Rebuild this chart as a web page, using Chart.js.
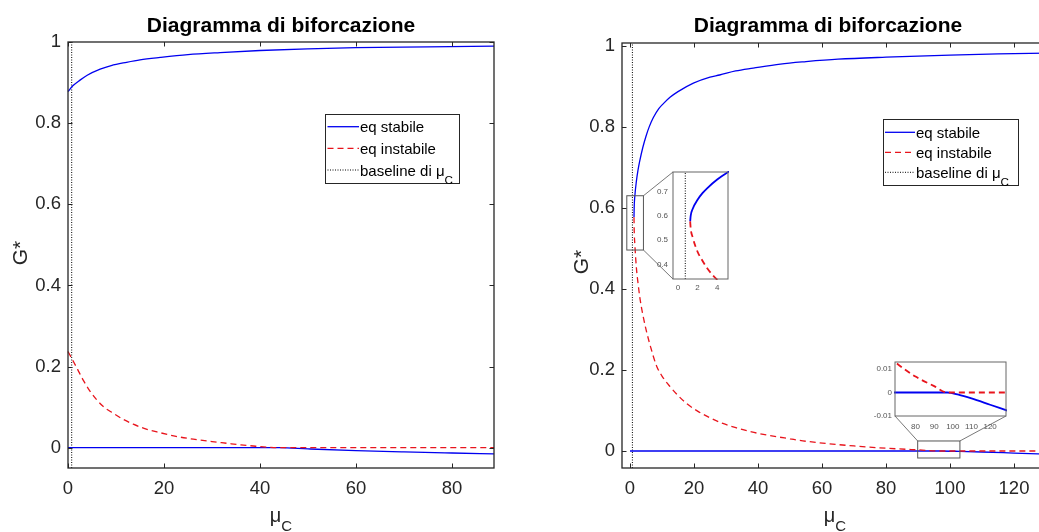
<!DOCTYPE html>
<html>
<head>
<meta charset="utf-8">
<script src="https://cdn.jsdelivr.net/npm/chart.js@4.4.1/dist/chart.umd.min.js"></script>
<style>
  html, body { margin: 0; padding: 0; background: #fff; overflow: hidden; }
  #page { position: relative; width: 1039px; height: 532px; overflow: hidden; background: #fff; }
  canvas { position: absolute; }
</style>
</head>
<body>
<div id="page">
  <canvas id="leftCanvas" width="520" height="532" style="left:0;top:0"></canvas>
  <canvas id="rightCanvas" width="540" height="532" style="left:520px;top:0"></canvas>
  <canvas id="linkCanvas" width="1039" height="532" style="left:0;top:0;pointer-events:none"></canvas>
  <canvas id="inset1Canvas" width="95" height="140" style="left:640px;top:162px"></canvas>
  <canvas id="inset2Canvas" width="160" height="85" style="left:855px;top:352px"></canvas>
</div>
<script>
// ---- data ----
// left panel
const leftTopMu = [0, 1, 2.5, 4, 6.7, 9, 12.2, 15, 19.2, 25, 31.7, 40, 50, 60, 75, 88.75];
const leftTopG  = [0.878, 0.892, 0.906, 0.918, 0.933, 0.942, 0.950, 0.956, 0.962, 0.969, 0.974, 0.979, 0.983, 0.986, 0.988, 0.990];
const leftRedMu = [0, 1.1, 2, 3.2, 4.5, 6, 7.5, 9.4, 11.5, 13.6, 16, 19.2, 22.5, 26.1, 30, 33, 36, 39.3, 42, 44, 88.75];
const leftRedG  = [0.237, 0.213, 0.193, 0.166, 0.141, 0.118, 0.100, 0.085, 0.070, 0.058, 0.047, 0.037, 0.028, 0.021, 0.015, 0.011, 0.007, 0.0035, 0.001, 0, 0];
const leftLowMu = [0, 44, 50, 60, 70, 80, 88.75];
const leftLowG  = [0, 0, -0.003, -0.0074, -0.0105, -0.013, -0.015];
const leftBaselineMu = 0.77;

// right panel (also used by the two magnified insets)
const rightTopMu = [1.25, 1.3, 1.5, 2, 2.5, 3, 4, 5, 6, 7.3, 9, 10.5, 12.5, 15, 19.8, 25, 28, 33, 38.5, 47, 55, 65, 80, 100, 115, 130];
const rightTopG  = [0.577, 0.600, 0.628, 0.666, 0.693, 0.714, 0.749, 0.777, 0.800, 0.823, 0.845, 0.858, 0.873, 0.887, 0.908, 0.923, 0.928, 0.938, 0.945, 0.955, 0.961, 0.967, 0.972, 0.977, 0.980, 0.982];
const rightRedMu = [1.25, 1.3, 1.5, 2, 2.5, 3, 3.5, 4, 5, 6.5, 8.3, 10, 12.5, 15, 17.7, 21, 25, 29, 33.3, 38, 43.8, 50, 54, 62, 70, 80, 90, 97, 130];
const rightRedG  = [0.577, 0.548, 0.512, 0.452, 0.415, 0.383, 0.358, 0.337, 0.300, 0.255, 0.210, 0.185, 0.159, 0.137, 0.117, 0.099, 0.082, 0.068, 0.057, 0.047, 0.038, 0.030, 0.025, 0.018, 0.0124, 0.0068, 0.0027, 0, 0];
const rightLowMu = [0, 97, 103, 110, 120, 130];
const rightLowG  = [0, 0, -0.0009, -0.0025, -0.0052, -0.0079];
const rightBaselineMu = 0.75;

// tick labels
const leftXTicks = [0, 20, 40, 60, 80];
const rightXTicks = [0, 20, 40, 60, 80, 100, 120];
const mainYTicks = [0, 0.2, 0.4, 0.6, 0.8, 1];
const inset1XTicks = [0, 2, 4];
const inset1YTicks = [0.4, 0.5, 0.6, 0.7];
const inset2XTicks = [80, 90, 100, 110, 120];
const inset2YTicks = [-0.01, 0, 0.01];

const TITLE = 'Diagramma di biforcazione';
const LABEL_STABLE = 'eq stabile';
const LABEL_UNSTABLE = 'eq instabile';
const LABEL_BASE = 'baseline di μ_C';

// ---- styling ----
const FAM = '"Liberation Sans", Arial, Helvetica, sans-serif';
const INK = '#262626';
const BLUE = '#0000f0';
const RED = '#e8141c';
Chart.defaults.font.family = FAM;
Chart.defaults.color = INK;

const zip = (xs, ys) => xs.map((x, i) => ({ x, y: ys[i] }));

// text with one "_X" subscript
function drawRich(ctx, text, x, y, size, subScale, subDy, align) {
  const [main, sub = ''] = text.split('_');
  const subSize = size * subScale;
  ctx.font = `${size}px ${FAM}`;
  const w1 = ctx.measureText(main).width;
  ctx.font = `${subSize}px ${FAM}`;
  const w2 = ctx.measureText(sub).width;
  const sx = align === 'center' ? x - (w1 + w2) / 2 : x;
  ctx.textAlign = 'left';
  ctx.textBaseline = 'alphabetic';
  ctx.font = `${size}px ${FAM}`;
  ctx.fillText(main, sx, y);
  ctx.font = `${subSize}px ${FAM}`;
  ctx.fillText(sub, sx + w1, y + subDy);
}

// MATLAB-ish axes: white box, inward ticks, title, labels, legend, zoom rectangles
const matlabAxes = {
  id: 'matlabAxes',
  beforeDatasetsDraw(chart) {
    const { ctx, chartArea: a } = chart;
    ctx.save();
    ctx.fillStyle = '#fff';
    ctx.fillRect(a.left, a.top, a.right - a.left, a.bottom - a.top);
    ctx.restore();
  },
  afterDatasetsDraw(chart, args, o) {
    const { ctx, chartArea: a, scales: { x, y } } = chart;
    ctx.save();
    // zoom rectangles (source regions of the insets)
    (o.rects || []).forEach(r => {
      const x0 = x.getPixelForValue(r.x0), x1 = x.getPixelForValue(r.x1);
      const y0 = y.getPixelForValue(r.y0), y1 = y.getPixelForValue(r.y1);
      ctx.strokeStyle = '#555';
      ctx.lineWidth = 1;
      ctx.strokeRect(x0, y1, x1 - x0, y0 - y1);
    });
    // ticks pointing inward on all four sides
    if (o.tickLen) {
      ctx.strokeStyle = o.boxColor;
      ctx.lineWidth = 1;
      ctx.beginPath();
      x.ticks.forEach(t => {
        const px = Math.round(x.getPixelForValue(t.value)) + 0.5;
        ctx.moveTo(px, a.bottom); ctx.lineTo(px, a.bottom - o.tickLen);
        ctx.moveTo(px, a.top); ctx.lineTo(px, a.top + o.tickLen);
      });
      y.ticks.forEach(t => {
        const py = Math.round(y.getPixelForValue(t.value)) + 0.5;
        ctx.moveTo(a.left, py); ctx.lineTo(a.left + o.tickLen, py);
        ctx.moveTo(a.right, py); ctx.lineTo(a.right - o.tickLen, py);
      });
      ctx.stroke();
    }
    // box
    ctx.strokeStyle = o.boxColor;
    ctx.lineWidth = o.boxWidth || 1;
    ctx.strokeRect(a.left, a.top, a.right - a.left, a.bottom - a.top);
    ctx.restore();
  },
  afterDraw(chart, args, o) {
    const { ctx, chartArea: a } = chart;
    ctx.save();
    ctx.fillStyle = '#000';
    const cx = (a.left + a.right) / 2;
    if (o.title) {
      ctx.font = `bold ${o.titleSize}px ${FAM}`;
      ctx.textAlign = 'center';
      ctx.textBaseline = 'alphabetic';
      ctx.fillText(o.title, o.titleX ?? cx, o.titleY);
    }
    ctx.fillStyle = INK;
    if (o.xLabel) drawRich(ctx, o.xLabel, o.xLabelX ?? cx, o.xLabelY, 20, 0.75, 8.7, 'center');
    if (o.yLabel) {
      ctx.save();
      ctx.translate(o.yLabelX, o.yLabelY);
      ctx.rotate(-Math.PI / 2);
      ctx.font = `21px ${FAM}`;
      ctx.textAlign = 'center';
      ctx.textBaseline = 'alphabetic';
      ctx.fillText(o.yLabel, 0, 0);
      ctx.restore();
    }
    const L = o.legend;
    if (L) {
      ctx.fillStyle = '#fff';
      ctx.fillRect(L.x, L.y, L.w, L.h);
      ctx.strokeStyle = INK;
      ctx.lineWidth = 1;
      ctx.strokeRect(L.x + 0.5, L.y + 0.5, L.w, L.h);
      const items = chart.data.datasets.filter(d => d.label);
      items.sort((p, q) => p.legendIndex - q.legendIndex);
      items.forEach((d, i) => {
        const ry = L.rows[i];
        ctx.strokeStyle = d.borderColor;
        ctx.lineWidth = d.borderWidth;
        ctx.setLineDash(d.borderDash || []);
        ctx.beginPath();
        ctx.moveTo(L.lx0, ry); ctx.lineTo(L.lx1, ry);
        ctx.stroke();
        ctx.setLineDash([]);
        ctx.fillStyle = '#000';
        drawRich(ctx, d.label, L.tx, ry + 5.5, 15, 0.78, 8, 'left');
      });
    }
    ctx.restore();
  }
};

function series(label, xs, ys, extra) {
  return Object.assign({
    label, data: zip(xs, ys), showLine: true, pointRadius: 0, pointHoverRadius: 0,
    borderWidth: 1.3, fill: false, cubicInterpolationMode: 'monotone', clip: 1
  }, extra);
}

function baseline(mu, yMin, yMax, width) {
  return series('', [mu, mu], [yMin, yMax], {
    borderColor: '#000', borderWidth: width, borderDash: [1, 1.5],
    cubicInterpolationMode: 'default', tension: 0, order: 2
  });
}

function axis(min, max, ticks, fontSize, pad, fit) {
  return {
    type: 'linear', min, max,
    grid: { display: false, drawTicks: false },
    border: { display: false },
    ticks: { font: { size: fontSize }, padding: pad, color: fontSize < 12 ? '#555' : INK,
             autoSkip: false, maxRotation: 0, callback: v => String(v) },
    afterBuildTicks: s => { s.ticks = ticks.map(v => ({ value: v })); },
    afterFit: fit
  };
}

function makeChart(id, datasets, padding, xs, ys, deco) {
  return new Chart(document.getElementById(id), {
    type: 'scatter',
    data: { datasets },
    options: {
      responsive: false, animation: false, devicePixelRatio: 1,
      layout: { padding },
      scales: { x: xs, y: ys },
      plugins: { legend: { display: false }, tooltip: { enabled: false }, matlabAxes: deco }
    },
    plugins: [matlabAxes]
  });
}

function panelSets(topMu, topG, redMu, redG, lowMu, lowG, baseMu, yMin, yMax, w) {
  return [
    series(LABEL_UNSTABLE, redMu, redG, { borderColor: RED, borderDash: [6, 4], borderWidth: w, order: 0, legendIndex: 1 }),
    series(LABEL_STABLE, topMu, topG, { borderColor: BLUE, borderWidth: w, order: 1, legendIndex: 0 }),
    series('', lowMu, lowG, { borderColor: BLUE, borderWidth: w, order: 1 }),
    Object.assign(baseline(baseMu, yMin, yMax, 1), { label: LABEL_BASE, legendIndex: 2 })
  ];
}

// ---- left panel ----
const leftChart = makeChart('leftCanvas',
  panelSets(leftTopMu, leftTopG, leftRedMu, leftRedG, leftLowMu, leftLowG, leftBaselineMu, -0.05, 1, 1.3),
  { left: 0, right: 26, top: 42, bottom: 0 },
  axis(0, 88.75, leftXTicks, 18.5, 10, s => { s.height = 64; }),
  axis(-0.05, 1, mainYTicks, 18.5, 7, s => { s.width = 68; }),
  {
    title: TITLE, titleSize: 21, titleY: 32,
    xLabel: 'μ_C', xLabelY: 522,
    yLabel: 'G*', yLabelX: 27, yLabelY: 253,
    boxColor: INK, boxWidth: 1.3, tickLen: 4.5,
    legend: { x: 325, y: 114, w: 134, h: 69, rows: [126.7, 148.3, 170], lx0: 327.5, lx1: 359, tx: 360 }
  });

// ---- right panel (axes run past the window edge, as in the picture) ----
const zoomRects = [
  { x0: -1.0, x1: 4.2, y0: 0.496, y1: 0.63 },
  { x0: 89.9, x1: 103.1, y0: -0.0173, y1: 0.0247 }
];
const rightChart = makeChart('rightCanvas',
  panelSets(rightTopMu, rightTopG, rightRedMu, rightRedG, rightLowMu, rightLowG, rightBaselineMu, -0.042, 1.007, 1.3),
  { left: 0, right: 14, top: 43, bottom: 0 },
  axis(-2.5, 130, rightXTicks, 18.5, 10, s => { s.height = 64; }),
  axis(-0.042, 1.007, mainYTicks, 18.5, 7, s => { s.width = 102; }),
  {
    title: TITLE, titleSize: 21, titleY: 32, titleX: 308,
    xLabel: 'μ_C', xLabelY: 522, xLabelX: 315,
    yLabel: 'G*', yLabelX: 68, yLabelY: 262,
    boxColor: INK, boxWidth: 1.3, tickLen: 4.5, rects: zoomRects,
    legend: { x: 363, y: 119, w: 135, h: 66, rows: [132.3, 152.3, 172.3], lx0: 365, lx1: 395, tx: 396 }
  });

// ---- magnified insets ----
const inset1 = makeChart('inset1Canvas',
  panelSets(rightTopMu, rightTopG, rightRedMu, rightRedG, rightLowMu, rightLowG, rightBaselineMu, 0.34, 0.78, 1.8),
  { left: 0, right: 7, top: 10, bottom: 0 },
  axis(-0.5, 5.1, inset1XTicks, 8, 4, s => { s.height = 23; }),
  axis(0.34, 0.78, inset1YTicks, 8, 5, s => { s.width = 33; }),
  { boxColor: '#666', boxWidth: 1, tickLen: 0 });

const inset2 = makeChart('inset2Canvas',
  panelSets(rightTopMu, rightTopG, rightRedMu, rightRedG, rightLowMu, rightLowG, rightBaselineMu, -0.01, 0.013, 1.8),
  { left: 0, right: 9, top: 10, bottom: 0 },
  axis(69, 128.5, inset2XTicks, 8, 6, s => { s.height = 21; }),
  axis(-0.01, 0.013, inset2YTicks, 8, 3, s => { s.width = 40; }),
  { boxColor: '#666', boxWidth: 1, tickLen: 0 });

// ---- connector lines between zoom rectangles and insets ----
(function drawLinks() {
  const ctx = document.getElementById('linkCanvas').getContext('2d');
  const offset = c => ({ x: parseFloat(c.canvas.style.left), y: parseFloat(c.canvas.style.top) });
  const rectCorner = (r, cx, cy) => {
    const o = offset(rightChart), sx = rightChart.scales.x, sy = rightChart.scales.y;
    return [o.x + sx.getPixelForValue(cx === 'l' ? r.x0 : r.x1), o.y + sy.getPixelForValue(cy === 't' ? r.y1 : r.y0)];
  };
  const boxCorner = (c, cx, cy) => {
    const o = offset(c), a = c.chartArea;
    return [o.x + (cx === 'l' ? a.left : a.right), o.y + (cy === 't' ? a.top : a.bottom)];
  };
  const links = [
    [rectCorner(zoomRects[0], 'r', 't'), boxCorner(inset1, 'l', 't')],
    [rectCorner(zoomRects[0], 'r', 'b'), boxCorner(inset1, 'l', 'b')],
    [rectCorner(zoomRects[1], 'l', 't'), boxCorner(inset2, 'l', 'b')],
    [rectCorner(zoomRects[1], 'r', 't'), boxCorner(inset2, 'r', 'b')]
  ];
  ctx.strokeStyle = '#555';
  ctx.lineWidth = 0.8;
  ctx.beginPath();
  links.forEach(([p, q]) => { ctx.moveTo(p[0], p[1]); ctx.lineTo(q[0], q[1]); });
  ctx.stroke();
})();
</script>
</body>
</html>
